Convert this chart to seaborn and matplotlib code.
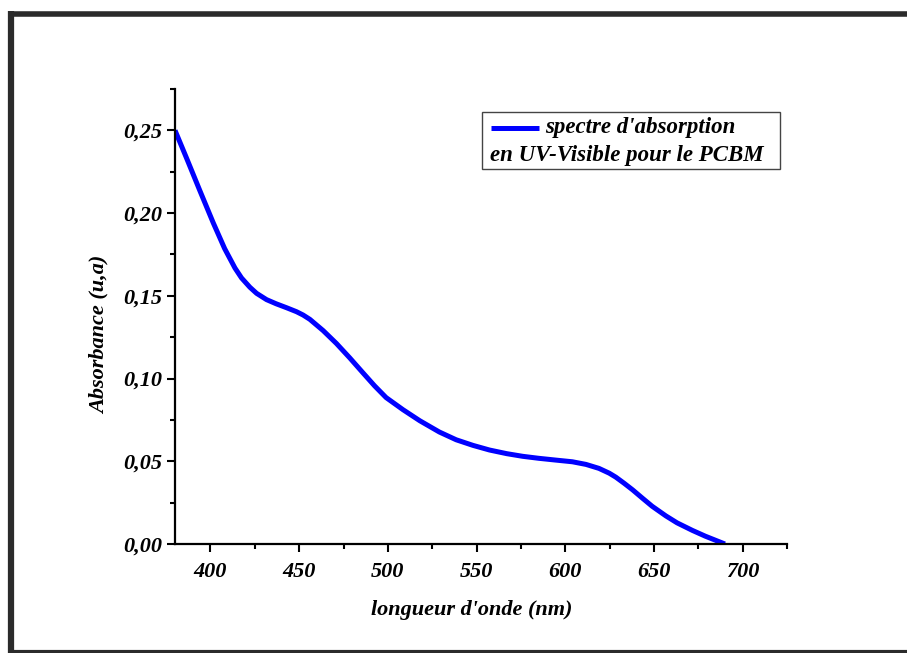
import matplotlib
matplotlib.use("Agg")
import matplotlib.pyplot as plt
import seaborn as sns
import pandas as pd
from matplotlib.lines import Line2D
from matplotlib.patches import Rectangle
from matplotlib.ticker import MultipleLocator, FuncFormatter

# ---- data ----
wavelength_nm = [380, 386.6, 394, 401.6, 408, 413.8, 417.5, 422.2, 426, 431.6, 437,
                 442.9, 448.5, 452.2, 456, 463.5, 471, 478.5, 486, 492.5, 499, 508.5,
                 518, 529, 538.5, 548, 557.3, 567, 576, 585, 594.8, 604, 611.7, 619,
                 624.8, 628.5, 633.2, 638, 643.5, 649, 656.7, 663, 671.7, 679, 690]
absorbance = [0.2500, 0.2330, 0.2136, 0.1940, 0.1785, 0.1668, 0.1608, 0.1552, 0.1515,
              0.1477, 0.1452, 0.1428, 0.1404, 0.1384, 0.1358, 0.1290, 0.1212, 0.1125,
              0.1034, 0.0956, 0.0885, 0.0812, 0.0745, 0.0677, 0.0630, 0.0596, 0.0568,
              0.0546, 0.0530, 0.0518, 0.0507, 0.0497, 0.0481, 0.0457, 0.0428, 0.0404,
              0.0367, 0.0327, 0.0277, 0.0228, 0.0170, 0.0128, 0.0082, 0.0047, 0.0000]
series_label_1 = "spectre d'absorption"
series_label_2 = "en UV-Visible pour le PCBM"
x_label = "longueur d'onde (nm)"
y_label = "Absorbance (u,a)"

df = pd.DataFrame({"nm": wavelength_nm, "A": absorbance})

W, H = 907, 653
sns.set_theme(style="ticks")
plt.rcParams['font.family'] = ['Liberation Serif', 'DejaVu Serif']
plt.rcParams['font.weight'] = 'bold'
plt.rcParams['font.style'] = 'italic'
plt.rcParams['text.color'] = 'black'
plt.rcParams['axes.labelcolor'] = 'black'

fig = plt.figure(figsize=(W / 100, H / 100), dpi=100)
fig.patch.set_facecolor("white")

def fx(x):
    return x / W

def fy(y):
    return 1 - y / H

ax = fig.add_axes([fx(175), fy(544), (787 - 175) / W, (544 - 89) / H])
ax.set_facecolor("white")

sns.lineplot(data=df, x="nm", y="A", ax=ax, color="#0000ff", linewidth=3.6,
             estimator=None, sort=True, solid_joinstyle="round", solid_capstyle="butt")

ax.set_xlim(380, 725)
ax.set_ylim(0, 0.275)
ax.xaxis.set_major_locator(MultipleLocator(50))
ax.xaxis.set_minor_locator(MultipleLocator(25))
ax.yaxis.set_major_locator(MultipleLocator(0.05))
ax.yaxis.set_minor_locator(MultipleLocator(0.025))
ax.yaxis.set_major_formatter(FuncFormatter(lambda v, p: f"{v:.2f}".replace(".", ",")))
ax.xaxis.set_major_formatter(FuncFormatter(lambda v, p: f"{v:.0f}"))

for s in ["top", "right"]:
    ax.spines[s].set_visible(False)
for s in ["left", "bottom"]:
    ax.spines[s].set_linewidth(1.6)
    ax.spines[s].set_color("black")

ax.tick_params(axis="both", which="major", direction="out", length=6, width=1.5,
               color="black", labelsize=16, labelcolor="black")
ax.tick_params(axis="both", which="minor", direction="out", length=3.5, width=1.5,
               color="black")
ax.tick_params(axis="x", which="major", pad=7)
ax.tick_params(axis="y", which="major", pad=3)
for lab in ax.get_xticklabels() + ax.get_yticklabels():
    lab.set_fontweight("bold")
    lab.set_fontstyle("italic")

ax.set_xlabel(x_label, fontsize=16, fontweight="bold", fontstyle="italic", color="black")
ax.set_ylabel(y_label, fontsize=16, fontweight="bold", fontstyle="italic", color="black")
ax.xaxis.set_label_coords(0.485, -0.122)
ax.yaxis.set_label_coords(-0.107, 0.46)

# ---- legend box (custom two-line layout) ----
fig.patches.append(Rectangle((fx(482), fy(169)), (780 - 482) / W, (169 - 112) / H,
                             transform=fig.transFigure, facecolor="white",
                             edgecolor="#444444", linewidth=1.0, zorder=5))
fig.lines.append(Line2D([fx(491), fx(539)], [fy(128), fy(128)],
                        transform=fig.transFigure, color="#0000ff", linewidth=3.6,
                        solid_capstyle="butt", zorder=6))
fig.text(fx(545), fy(128), series_label_1, fontsize=16.5, fontweight="bold",
         fontstyle="italic", ha="left", va="center", color="black", zorder=6)
fig.text(fx(490), fy(155), series_label_2, fontsize=16.5, fontweight="bold",
         fontstyle="italic", ha="left", va="center", color="black", zorder=6)

# ---- outer frame (left, top, bottom) ----
bc = "#2b2b2b"
fig.lines.append(Line2D([fx(11), fx(11)], [fy(11), fy(653)], transform=fig.transFigure,
                        color=bc, linewidth=4.5, solid_capstyle="butt"))
fig.lines.append(Line2D([fx(9), fx(907)], [fy(13.5), fy(13.5)], transform=fig.transFigure,
                        color=bc, linewidth=4.0, solid_capstyle="butt"))
fig.lines.append(Line2D([fx(9), fx(907)], [fy(651.5), fy(651.5)], transform=fig.transFigure,
                        color=bc, linewidth=3.0, solid_capstyle="butt"))

fig.savefig("out.png", dpi=100, facecolor="white")
